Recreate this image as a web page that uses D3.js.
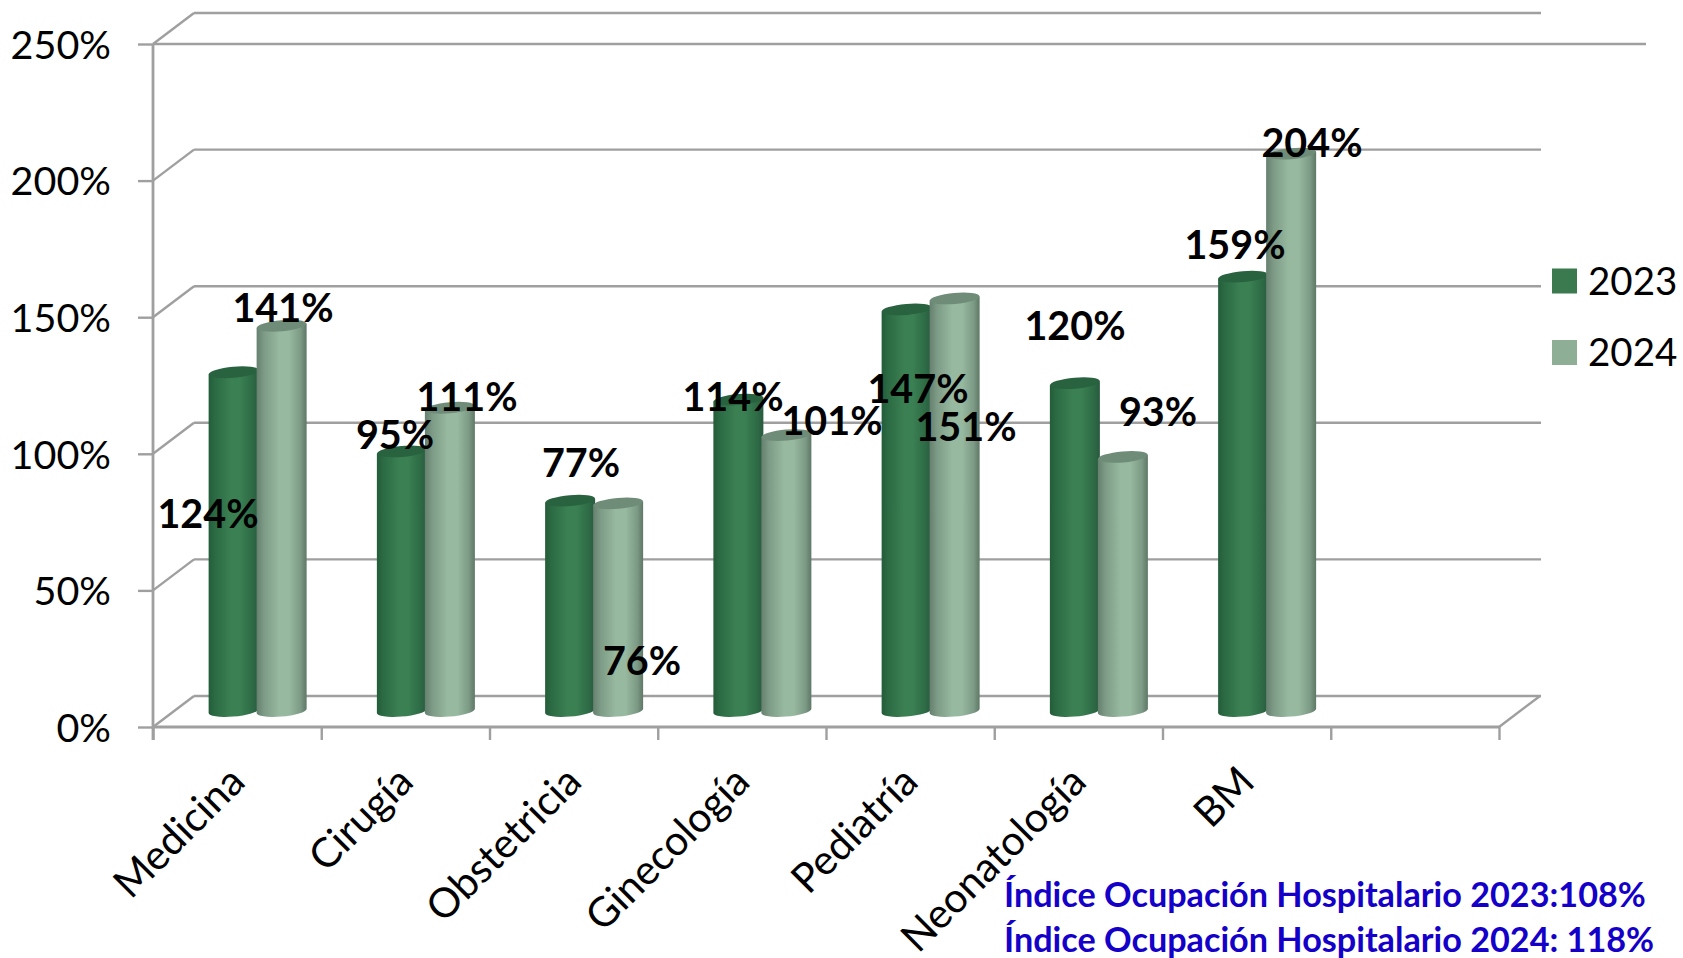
<!DOCTYPE html>
<html><head><meta charset="utf-8">
<script src="https://cdn.jsdelivr.net/npm/d3@7"></script>
<style>html,body{margin:0;padding:0;background:#fff}svg{display:block}text{font-family:Lato,"Noto Sans",sans-serif}</style>
</head><body><svg id="c" width="1683" height="958"></svg>
<script>
const categories = ["Medicina","Cirugía","Obstetricia","Ginecología","Pediatría","Neonatología","BM",""];
const seriesNames = ["2023","2024"];
const values2023 = [124,95,77,114,147,120,159];
const values2024 = [141,111,76,101,151,93,204];
const yTicks = [0,50,100,150,200,250];
const notes = ["Índice Ocupación Hospitalario 2023:108%","Índice Ocupación Hospitalario 2024: 118%"];
// where the source chart left its (misplaced) data labels, as absolute page centres
const labelCentres2023 = [[208,515],[395,436],[581,464],[733,398],[918,390],[1075,327],[1235,246]];
const labelCentres2024 = [[283,309],[467,398],[642,662],[832,422],[966,428],[1158,413],[1312,144]];

const svg = d3.select("#c");
const x0=153,x1=1499,yB=727,yT=44,depthX=41,depthY=31,grey="#9f9f9f";
const x = d3.scaleBand().domain(categories).range([x0,x1]);
const y = d3.scaleLinear().domain([0,250]).range([yB,yT]);

const defs = svg.append("defs");
function grad(id,stops){
  const g=defs.append("linearGradient").attr("id",id).attr("x1",0).attr("x2",1).attr("y1",0).attr("y2",0);
  stops.forEach(s=>g.append("stop").attr("offset",s[0]).attr("stop-color",s[1]));
}
grad("g23",[[0,"#235c39"],[.12,"#2b6a43"],[.45,"#3b8053"],[.62,"#3b8053"],[.88,"#2d6a45"],[1,"#2a5a3f"]]);
grad("g24",[[0,"#66806f"],[.15,"#7d9b86"],[.45,"#97b99f"],[.65,"#97b99f"],[.88,"#7c9a85"],[1,"#5e7866"]]);

// back wall gridlines and side-wall diagonals
const grid = svg.append("g").attr("stroke",grey).attr("stroke-width",2.4).attr("fill","none");
yTicks.forEach(t=>{
  const yy=y(t);
  grid.append("line").attr("x1",x0+depthX).attr("x2",x1+depthX+1).attr("y1",yy-depthY).attr("y2",yy-depthY);
  grid.append("line").attr("x1",x0).attr("x2",x0+depthX).attr("y1",yy).attr("y2",yy-depthY);
});
grid.append("line").attr("x1",x1).attr("x2",x1+depthX).attr("y1",yB).attr("y2",yB-depthY);
grid.append("line").attr("x1",x0).attr("x2",1646).attr("y1",yT).attr("y2",yT);

// axes
const yAxis = svg.append("g").attr("transform",`translate(${x0},0)`)
  .call(d3.axisLeft(y).tickValues(yTicks).tickFormat(d=>d+"%").tickSize(15).tickPadding(27));
yAxis.selectAll("line").attr("stroke",grey).attr("stroke-width",2.4);
yAxis.select(".domain").attr("stroke",grey).attr("stroke-width",2.8).attr("d",`M0,${yT}V${yB+13}`);
yAxis.selectAll("text").attr("font-size",39.5).attr("fill","#000").attr("dy","0.36em").style("font-family","Lato");

const edge = d3.scaleLinear().domain([0,categories.length]).range([x0,x1]);
const xAxis = svg.append("g").attr("transform",`translate(0,${yB})`)
  .call(d3.axisBottom(edge).tickValues(d3.range(0,categories.length+1)).tickFormat("").tickSize(13));
xAxis.selectAll("line").attr("stroke",grey).attr("stroke-width",2.4);
xAxis.select(".domain").attr("stroke",grey).attr("stroke-width",2.8).attr("d",`M${x0},0H${x1}`);

svg.append("g").selectAll("text").data(categories.filter(d=>d)).join("text")
  .attr("transform",d=>`translate(${x(d)+x.bandwidth()/2+10},784) rotate(-45)`)
  .attr("text-anchor","end").attr("font-size",41).attr("fill","#000").text(d=>d);

// cylinders
const rx=25, ry=5.5, tilt=-5, lift=2, step=24;
const floorDy=16, floorDx=20.5;
function drawSeries(vals,offset,gid,top){
  const g=svg.append("g");
  vals.forEach((v,i)=>{
    const c=x(categories[i])+x.bandwidth()/2+floorDx+offset*step;
    const yTop=y(v)-floorDy, yBot=y(0)-floorDy;
    g.append("path").attr("fill",`url(#${gid})`)
      .attr("d",`M${c-rx},${yTop+lift}L${c-rx},${yBot+lift}A${rx},${ry} ${tilt} 0 0 ${c+rx},${yBot-lift}L${c+rx},${yTop-lift}Z`);
    g.append("ellipse").attr("cx",c).attr("cy",yTop).attr("rx",rx).attr("ry",ry)
      .attr("transform",`rotate(${tilt} ${c} ${yTop})`).attr("fill",top);
  });
}
drawSeries(values2023,-1,"g23","#28623e");
drawSeries(values2024,1,"g24","#6f8c78");

// data labels
const lab=svg.append("g").attr("font-size",39.5).attr("font-weight",700).attr("text-anchor","middle").attr("fill","#000");
[[values2023,labelCentres2023],[values2024,labelCentres2024]].forEach(([vals,pos])=>{
  vals.forEach((v,i)=>lab.append("text").attr("x",pos[i][0]).attr("y",pos[i][1]).attr("dy","0.34em").text(v+"%"));
});

// legend
const legendColors=["#3a7a4e","#8fae96"];
const leg=svg.append("g");
seriesNames.forEach((n,i)=>{
  const yy=281+i*71.5;
  leg.append("rect").attr("x",1552).attr("y",yy-12.5).attr("width",25).attr("height",25).attr("fill",legendColors[i]);
  leg.append("text").attr("x",1588).attr("y",yy).attr("dy","0.36em").attr("font-size",38.5).attr("fill","#000").text(n);
});

// notes
svg.append("g").selectAll("text").data(notes).join("text")
  .attr("x",1004).attr("y",(d,i)=>895+i*44.5).attr("dy","0.36em")
  .attr("font-size",34.2).attr("font-weight",700).attr("fill","#1400c8").text(d=>d);
</script></body></html>
